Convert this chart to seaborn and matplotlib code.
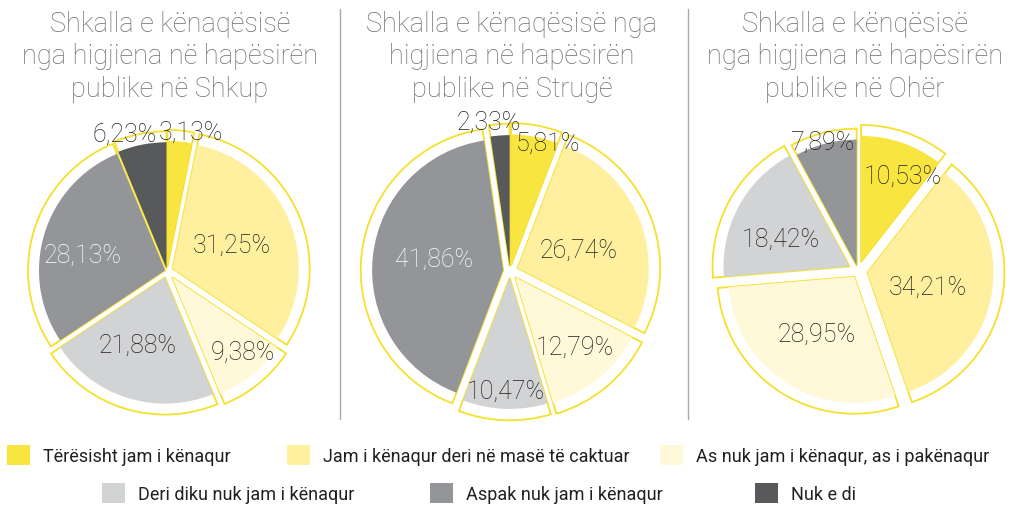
import numpy as np
import matplotlib
matplotlib.use("Agg")
import matplotlib.pyplot as plt
from matplotlib.patches import Patch
from matplotlib.lines import Line2D
import seaborn as sns

# ---------------- data ----------------
categories = [
    "Tërësisht jam i kënaqur",
    "Jam i kënaqur deri në masë të caktuar",
    "As nuk jam i kënaqur, as i pakënaqur",
    "Deri diku nuk jam i kënaqur",
    "Aspak nuk jam i kënaqur",
    "Nuk e di",
]
shkup_values = [3.13, 31.25, 9.38, 21.88, 28.13, 6.23]
struge_values = [5.81, 26.74, 12.79, 10.47, 41.86, 2.33]
oher_values = [10.53, 34.21, 28.95, 18.42, 7.89]

titles = [
    "Shkalla e kënaqësisë\nnga higjiena në hapësirën\npublike në Shkup",
    "Shkalla e kënaqësisë nga\nhigjiena në hapësirën\npublike në Strugë",
    "Shkalla e kënqësisë\nnga higjiena në hapësirën\npublike në Ohër",
]

# ---------------- style ----------------
sns.set_theme(style="white")
plt.rcParams["font.family"] = ["Roboto", "DejaVu Sans"]

palette = sns.color_palette(["#F9E53F", "#FFF09F", "#FFF8D9", "#D1D3D4", "#939598", "#58595B"])
OUTLINE = "#F5E02D"
TEXT = "#231F20"
TITLE_C = "#6D6E71"

# per-pie styling (explode offsets, label distances / angle shifts, label colours)
pie_styles = [
    dict(values=shkup_values, center=167, radius=1.0,
         explode=[0.03, 0.045, 0.06, 0.05, 0.015, 0.02],
         ldist=[1.03, 0.51, 0.81, 0.58, 0.63, 1.05],
         lshift=[-4, 0, 4, -5, 6, 6],
         lcol=[TEXT, TEXT, TEXT, TEXT, "white", TEXT]),
    dict(values=struge_values, center=510, radius=1.04,
         explode=[0.04, 0.06, 0.06, 0.05, 0.05, 0.035],
         ldist=[0.94, 0.50, 0.70, 0.84, 0.54, 1.06],
         lshift=[-6, -4, 1, 0, -3, 4],
         lcol=[TEXT, TEXT, TEXT, TEXT, "white", TEXT]),
    dict(values=oher_values, center=858, radius=1.0,
         explode=[0.07, 0.07, 0.05, 0.07, 0.04],
         ldist=[0.77, 0.52, 0.55, 0.61, 0.98],
         lshift=[-6, -3, 0, 6, 1],
         lcol=[TEXT, TEXT, TEXT, TEXT, TEXT]),
]

W, H = 1011, 506
fig = plt.figure(figsize=(W / 100, H / 100), dpi=100)

PX_PER_UNIT = 137.0
HALF = 1.2
ax_px = 2 * HALF * PX_PER_UNIT
CY = 272  # pie centre, px from top

for st in pie_styles:
    cx = st["center"]
    ax = fig.add_axes([(cx - ax_px / 2) / W, (H - CY - ax_px / 2) / H, ax_px / W, ax_px / H])
    vals = st["values"]
    n = len(vals)
    R = st["radius"]
    # outer outlines
    ax.pie(vals, radius=R, explode=st["explode"], startangle=90, counterclock=False,
           colors=palette[:n],
           wedgeprops=dict(facecolor="white", edgecolor=OUTLINE, linewidth=1.3))
    # inner filled wedges
    ax.pie(vals, radius=R * 0.92, explode=st["explode"], startangle=90, counterclock=False,
           colors=palette[:n], wedgeprops=dict(linewidth=0))
    total = sum(vals)
    cum = 0.0
    for v, d, sh, c in zip(vals, st["ldist"], st["lshift"], st["lcol"]):
        ang = np.deg2rad(90 - 360 * (cum + v / 2) / total + sh)
        cum += v
        ax.text(d * R * np.cos(ang), d * R * np.sin(ang),
                f"{v:.2f}".replace(".", ",") + "%", ha="center", va="center",
                fontsize=18, color=c, fontweight="light")
    ax.set_xlim(-HALF, HALF)
    ax.set_ylim(-HALF, HALF)
    ax.set_aspect("equal")
    ax.axis("off")

# titles
title_x = [170, 512, 855]
for tx, t in zip(title_x, titles):
    fig.text(tx / W, 1 - 11 / H, t, ha="center", va="top", fontsize=19.5,
             color=TITLE_C, linespacing=1.26, fontweight="light")

# separators
for sx in [340, 688]:
    fig.add_artist(Line2D([sx / W, sx / W], [1 - 10 / H, 1 - 420 / H],
                          color="#A7A9AC", linewidth=1.0))

# legend (one entry per legend to follow reference spacing)
leg_pos = [(7, 456), (287, 456), (660, 456), (102, 494), (430, 494), (755, 494)]
for (lx, ly), cat, col in zip(leg_pos, categories, palette):
    fig.legend(handles=[Patch(facecolor=col, edgecolor="none", label=cat)],
               loc="center left", bbox_to_anchor=(lx / W, 1 - ly / H),
               frameon=False, fontsize=13, handlelength=1.28, handleheight=1.28,
               handletextpad=0.7, borderpad=0, borderaxespad=0, labelcolor=TEXT)

fig.savefig("out.png", dpi=100, facecolor="white")
